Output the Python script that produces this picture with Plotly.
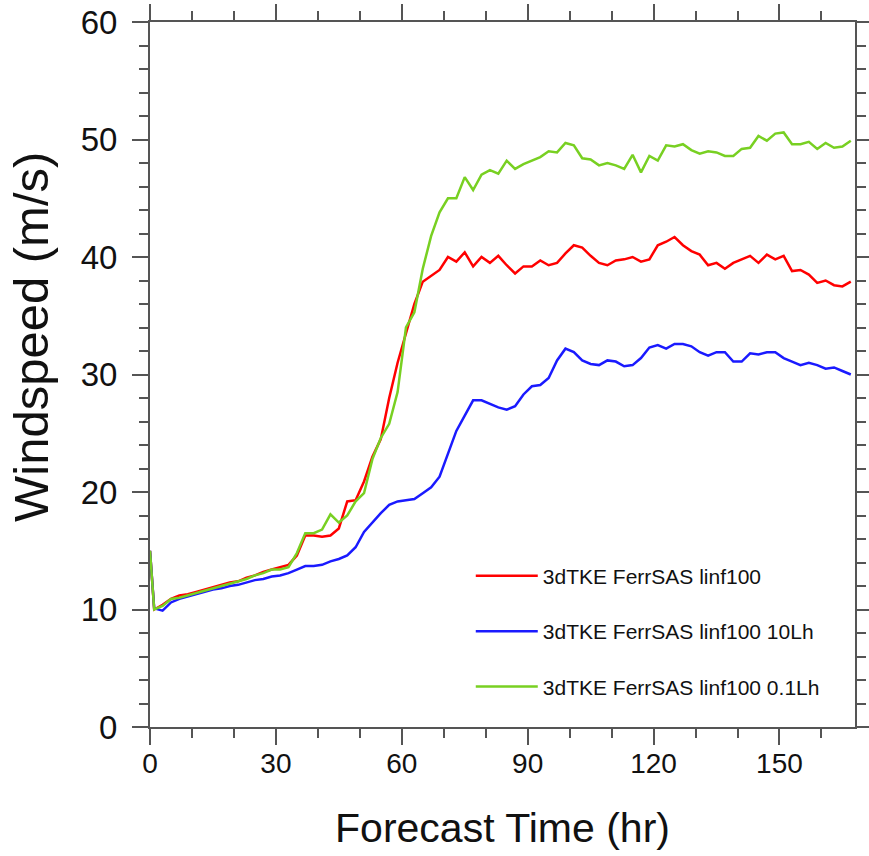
import plotly.graph_objects as go

hours = [0] + list(range(1, 168, 2))

red_vals = [15.0, 10.0, 10.4, 10.9, 11.2, 11.3, 11.5, 11.7, 11.9, 12.1, 12.3, 12.4, 12.7, 12.9, 13.2, 13.4, 13.6, 13.8,
            14.6, 16.3, 16.3, 16.2, 16.3, 16.9, 19.2, 19.3, 20.9, 23.0, 24.5, 28.0, 31.0, 33.5, 36.0, 37.9, 38.4, 38.9,
            40.0, 39.6, 40.4, 39.2, 40.0, 39.5, 40.1, 39.3, 38.6, 39.2, 39.2, 39.7, 39.3, 39.5, 40.3, 41.0, 40.8, 40.1,
            39.5, 39.3, 39.7, 39.8, 40.0, 39.6, 39.8, 41.0, 41.3, 41.7, 41.0, 40.5, 40.2, 39.3, 39.5, 39.0, 39.5, 39.8,
            40.1, 39.5, 40.2, 39.8, 40.1, 38.8, 38.9, 38.5, 37.8, 38.0, 37.6, 37.5, 37.9]

blue_vals = [15.0, 10.1, 9.9, 10.6, 10.9, 11.1, 11.3, 11.5, 11.7, 11.8, 12.0, 12.1, 12.3, 12.5, 12.6, 12.8, 12.9, 13.1,
             13.4, 13.7, 13.7, 13.8, 14.1, 14.3, 14.6, 15.3, 16.6, 17.4, 18.2, 18.9, 19.2, 19.3, 19.4, 19.9, 20.4, 21.3,
             23.3, 25.2, 26.5, 27.8, 27.8, 27.5, 27.2, 27.0, 27.3, 28.3, 29.0, 29.1, 29.7, 31.2, 32.2, 31.9, 31.2, 30.9,
             30.8, 31.2, 31.1, 30.7, 30.8, 31.4, 32.3, 32.5, 32.2, 32.6, 32.6, 32.4, 31.9, 31.6, 31.9, 31.9, 31.1, 31.1,
             31.8, 31.7, 31.9, 31.9, 31.4, 31.1, 30.8, 31.0, 30.8, 30.5, 30.6, 30.3, 30.0]

green_vals = [15.0, 10.0, 10.3, 10.9, 11.0, 11.2, 11.4, 11.6, 11.8, 12.0, 12.2, 12.4, 12.6, 12.9, 13.1, 13.4, 13.4, 13.6,
              14.8, 16.5, 16.5, 16.8, 18.1, 17.4, 18.0, 19.2, 19.9, 22.8, 24.6, 25.8, 28.5, 34.0, 35.3, 39.0, 41.8, 43.8,
              45.0, 45.0, 46.8, 45.7, 47.0, 47.4, 47.1, 48.2, 47.5, 47.9, 48.2, 48.5, 49.0, 48.9, 49.7, 49.5, 48.4, 48.3,
              47.8, 48.0, 47.8, 47.5, 48.7, 47.2, 48.6, 48.2, 49.5, 49.4, 49.6, 49.1, 48.8, 49.0, 48.9, 48.6, 48.6, 49.2,
              49.3, 50.3, 49.9, 50.5, 50.6, 49.6, 49.6, 49.8, 49.2, 49.7, 49.3, 49.4, 49.9]

series_names = ["3dTKE FerrSAS linf100", "3dTKE FerrSAS linf100 10Lh", "3dTKE FerrSAS linf100 0.1Lh"]
series_colors = ["#ff0000", "#1a1aff", "#78d022"]
series_values = [red_vals, blue_vals, green_vals]

x_ticks = [0, 30, 60, 90, 120, 150]
y_ticks = [0, 10, 20, 30, 40, 50, 60]

FONT = "Liberation Sans, Arial, sans-serif"

fig = go.Figure()
for i, (name, col, vals) in enumerate(zip(series_names, series_colors, series_values)):
    fig.add_trace(go.Scatter(x=hours, y=vals, mode="lines", name=name, legendgroup=f"g{i}",
                             line=dict(color=col, width=2.5)))

axis_common = dict(showline=True, linecolor="#555555", linewidth=2, mirror="allticks",
                   ticks="outside", tickcolor="#555555", tickwidth=2, ticklen=16,
                   showgrid=False, zeroline=False, automargin=False)

fig.update_xaxes(range=[0, 168], tickvals=x_ticks, **axis_common,
                 tickfont=dict(family=FONT, size=28, color="#111111"), ticklabelstandoff=-6,
                 minor=dict(dtick=10, tick0=0, ticks="outside", ticklen=9, tickcolor="#555555", tickwidth=1.5, showgrid=False),
                 title=dict(text="Forecast Time (hr)", font=dict(family=FONT, size=41, color="#111111"), standoff=36))
fig.update_yaxes(range=[0, 60], tickvals=y_ticks, **axis_common,
                 tickfont=dict(family=FONT, size=33, color="#111111"), ticklabelstandoff=8,
                 minor=dict(dtick=2, tick0=0, ticks="outside", ticklen=9, tickcolor="#555555", tickwidth=1.5, showgrid=False))

fig.add_annotation(text="Windspeed (m/s)", textangle=-90, xref="paper", yref="paper",
                   x=-0.169, y=0.553, xanchor="center", yanchor="middle", showarrow=False,
                   font=dict(family=FONT, size=49, color="#111111"))

fig.update_layout(width=869, height=856, margin=dict(l=150, r=14, t=22, b=129, pad=0),
                  plot_bgcolor="white", paper_bgcolor="white",
                  legend=dict(x=0.455, y=0.243, xanchor="left", yanchor="top", bgcolor="rgba(0,0,0,0)",
                              font=dict(family=FONT, size=21, color="#111111"),
                              itemwidth=62, tracegroupgap=25, traceorder="grouped"),
                  )

fig.write_html("out.html")
